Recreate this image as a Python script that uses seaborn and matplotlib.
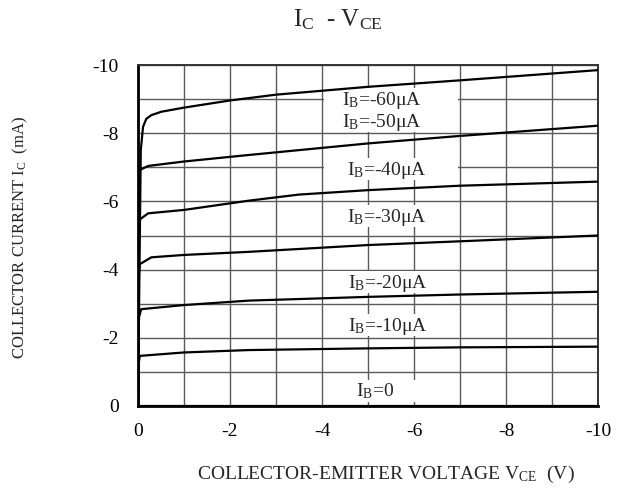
import numpy as np
import pandas as pd
import matplotlib
matplotlib.use("Agg")
import matplotlib.pyplot as plt
from matplotlib.ticker import MultipleLocator
from matplotlib.patches import Rectangle
import seaborn as sns

# ---- data ----
vce_60 = [0, -0.06, -0.11, -0.18, -0.29, -0.51, -1.0, -2.0, -3.0, -5.0, -7.0, -10.0]
ic_60 = [0, -7.5, -8.19, -8.42, -8.53, -8.63, -8.75, -8.96, -9.13, -9.36, -9.55, -9.85]

vce_50 = [0, -0.02, -0.04, -0.22, -1.0, -2.4, -5.0, -7.0, -10.0]
ic_50 = [0, -6.6, -6.92, -7.04, -7.17, -7.36, -7.70, -7.92, -8.22]

vce_40 = [0, -0.02, -0.04, -0.22, -1.0, -2.4, -3.5, -5.0, -7.0, -10.0]
ic_40 = [0, -5.2, -5.47, -5.65, -5.75, -6.02, -6.20, -6.33, -6.46, -6.58]

vce_30 = [0, -0.02, -0.04, -0.29, -1.0, -2.4, -5.0, -7.0, -10.0]
ic_30 = [0, -3.9, -4.16, -4.36, -4.43, -4.52, -4.72, -4.83, -5.0]

vce_20 = [0, -0.02, -0.07, -1.0, -2.4, -5.0, -7.0, -10.0]
ic_20 = [0, -2.6, -2.84, -2.96, -3.09, -3.20, -3.27, -3.35]

vce_10 = [0, -0.02, -0.04, -1.0, -2.4, -5.0, -7.0, -10.0]
ic_10 = [0, -1.3, -1.47, -1.57, -1.64, -1.69, -1.72, -1.74]

vce_0 = [0, -5.0, -10.0]
ic_0 = [0, 0, 0]

curve_names = ["-60", "-50", "-40", "-30", "-20", "-10", "0"]
label_texts = [r"$\mathrm{I_B}$=-60μA", r"$\mathrm{I_B}$=-50μA", r"$\mathrm{I_B}$=-40μA",
               r"$\mathrm{I_B}$=-30μA", r"$\mathrm{I_B}$=-20μA", r"$\mathrm{I_B}$=-10μA",
               r"$\mathrm{I_B}$=0"]
label_x = [-4.43, -4.43, -4.54, -4.54, -4.57, -4.57, -4.74]
label_y = [-8.83, -8.19, -6.77, -5.40, -3.47, -2.20, -0.27]   # text baselines

x_ticks = [0, -2, -4, -6, -8, -10]
x_tick_labels = ["0", "-2", "-4", "-6", "-8", "-10"]
y_ticks = [0, -2, -4, -6, -8, -10]
y_tick_labels = ["0", "-2", "-4", "-6", "-8", "-10"]

# ---- build long table ----
series = [(vce_60, ic_60), (vce_50, ic_50), (vce_40, ic_40), (vce_30, ic_30),
          (vce_20, ic_20), (vce_10, ic_10), (vce_0, ic_0)]
rows = []
for name, (xs, ys) in zip(curve_names, series):
    for i, (xv, yv) in enumerate(zip(xs, ys)):
        rows.append({"IB": name, "order": i, "VCE": xv, "IC": yv})
df = pd.DataFrame(rows)

sns.set_theme(style="white")
plt.rcParams["font.family"] = ["Liberation Serif", "DejaVu Serif"]
plt.rcParams["mathtext.fontset"] = "custom"
plt.rcParams["mathtext.rm"] = "Liberation Serif"
plt.rcParams["mathtext.it"] = "Liberation Serif:italic"
plt.rcParams["mathtext.bf"] = "Liberation Serif:bold"
plt.rcParams["axes.unicode_minus"] = False

fig = plt.figure(figsize=(6.24, 5.0), dpi=100)
ax = fig.add_axes([138 / 624, 1 - 406 / 500, 460 / 624, 341 / 500])

sns.lineplot(data=df, x="VCE", y="IC", hue="IB", units="IB", estimator=None,
             sort=False, palette=["black"] * len(curve_names), legend=False,
             linewidth=1.6, ax=ax)
for ln in ax.lines:
    ln.set_zorder(3)
    ln.set_solid_joinstyle("round")

ax.set_xlim(0, -10)
ax.set_ylim(0, -10)
ax.set_xticks(x_ticks)
ax.set_xticklabels(x_tick_labels)
ax.set_yticks(y_ticks)
ax.set_yticklabels(y_tick_labels)
ax.xaxis.set_minor_locator(MultipleLocator(1))
ax.yaxis.set_minor_locator(MultipleLocator(1))
ax.tick_params(which="both", length=0)
ax.tick_params(axis="x", pad=12.5, labelsize=14, colors="black")
ax.tick_params(axis="y", pad=14, labelsize=14, colors="black")

ax.set_axisbelow(True)
ax.grid(True, which="both", color="#5a5a5a", linewidth=1.0)

for side in ["left", "bottom"]:
    ax.spines[side].set_color("black")
    ax.spines[side].set_linewidth(2.0)
for side in ["top", "right"]:
    ax.spines[side].set_color("#333333")
    ax.spines[side].set_linewidth(1.4)
    ax.spines[side].set_visible(True)

# white label backgrounds (hide the grid behind the labels)
box_left, box_right = -4.05, -6.95
box_above, box_below = 0.49, 0.15
for txt, lx, ly in zip(label_texts, label_x, label_y):
    ax.add_patch(Rectangle((box_left, ly + box_below), box_right - box_left,
                           -(box_above + box_below), facecolor="white",
                           edgecolor="none", zorder=1))
    ax.text(lx, ly, txt, ha="left", va="baseline", fontsize=14, zorder=2)

fig.text(338 / 624, 1 - 20 / 500, r"$\mathrm{I_C}$  - $\mathrm{V_{CE}}$",
         ha="center", va="center", fontsize=18)
fig.text(386 / 624, 1 - 474 / 500, r"COLLECTOR-EMITTER VOLTAGE $\mathrm{V_{CE}}$  (V)",
         ha="center", va="center", fontsize=14)
fig.text(20 / 624, 1 - 237 / 500, r"COLLECTOR CURRENT $\mathrm{I_C}$  (mA)",
         ha="center", va="center", rotation=90, fontsize=12)

ax.set_xlabel("")
ax.set_ylabel("")
fig.savefig("out.png", dpi=100)
